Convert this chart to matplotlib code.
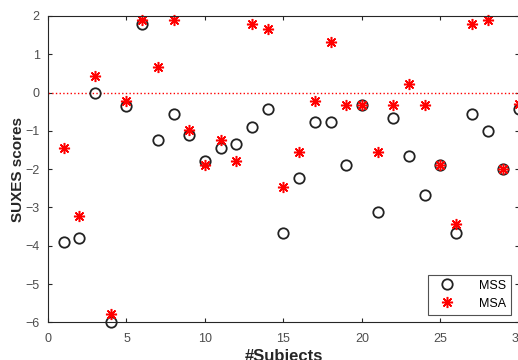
import matplotlib.pyplot as plt

subjects = list(range(1, 31))
mss = [-3.90, -3.80, 0.00, -6.00, -0.34, 1.78, -1.23, -0.56, -1.11, -1.78,
       -1.45, -1.34, -0.89, -0.44, -3.68, -2.23, -0.78, -0.78, -1.89, -0.33,
       -3.13, -0.66, -1.67, -2.68, -1.89, -3.67, -0.56, -1.00, -2.00, -0.44]
msa = [-1.45, -3.23, 0.44, -5.79, -0.21, 1.90, 0.67, 1.89, -0.98, -1.90,
       -1.23, -1.80, 1.78, 1.67, -2.46, -1.55, -0.21, 1.33, -0.33, -0.33,
       -1.55, -0.33, 0.23, -0.33, -1.89, -3.44, 1.78, 1.89, -2.00, -0.30]

plt.rcParams['font.family'] = ['Liberation Sans', 'DejaVu Sans']

fig = plt.figure(figsize=(5.18, 3.6), dpi=100)
ax = fig.add_axes([48 / 518, 0.1047, 471 / 518, 0.851])

ax.plot([0, 30], [0, 0], color='red', linestyle=':', linewidth=1)
ax.plot(subjects, mss, linestyle='none', marker='o', markersize=7.5, clip_on=False,
        markerfacecolor='none', markeredgecolor='#222222', markeredgewidth=1.3, label='MSS')
ax.plot(subjects, msa, linestyle='none', marker=(8, 2, 0), markersize=8, clip_on=False,
        color='red', markeredgewidth=1.1, label='MSA')

ax.set_xlim(0, 30)
ax.set_ylim(-6, 2)
ax.set_xticks([0, 5, 10, 15, 20, 25, 30])
ax.set_yticks(range(-6, 3))
ax.tick_params(direction='in', labelsize=9, colors='#262626', labelcolor='#4d4d4d',
               length=3, top=True, right=True)
ax.tick_params(axis='x', pad=8)
ax.tick_params(axis='y', pad=6)
for s in ax.spines.values():
    s.set_color('#262626')
    s.set_linewidth(0.8)

ax.set_xlabel('#Subjects', fontsize=12, fontweight='bold', color='#262626', labelpad=2.5)
ax.set_ylabel('SUXES scores', fontsize=11, fontweight='bold', color='#262626', labelpad=0)

leg = ax.legend(loc='lower right', fontsize=9, fancybox=False, edgecolor='#262626',
                borderaxespad=0.6, handletextpad=1.5, handlelength=2.2)
leg.get_frame().set_linewidth(0.8)

fig.savefig('out.png', dpi=100)
